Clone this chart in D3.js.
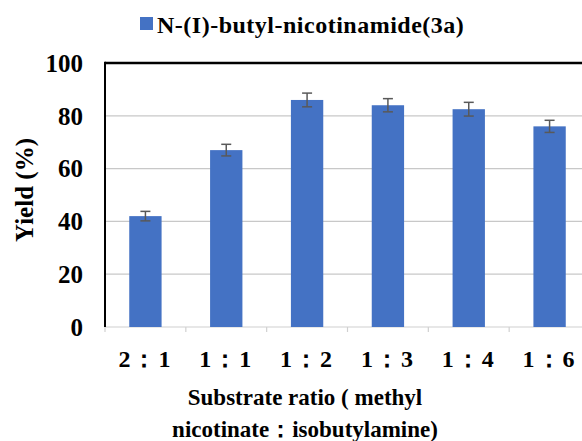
<!DOCTYPE html>
<html>
<head>
<meta charset="utf-8">
<script src="https://cdn.jsdelivr.net/npm/d3@7"></script>
<style>
  body { margin: 0; background: #fff; }
</style>
</head>
<body>
<svg width="582" height="441"></svg>
<script>
const ratios = ['2：1', '1：1', '1：2', '1：3', '1：4', '1：6']
const yields = [42, 67, 86, 84, 82.5, 76]
const errors = [1.8, 2.2, 2.6, 2.5, 2.6, 2.3]
const yTicks = [0, 20, 40, 60, 80, 100]
const seriesName = 'N-(I)-butyl-nicotinamide(3a)'

const svg = d3.select('svg')
  .attr('font-family', "'Times New Roman', 'Liberation Serif', serif")
  .attr('font-weight', 'bold')

const plotLeft = 105, plotRight = 590, plotTop = 63, plotBottom = 327

const x = d3.scaleBand()
  .domain(ratios)
  .range([plotLeft, plotRight])
  .paddingInner(0.6)
  .paddingOuter(0.3)

const y = d3.scaleLinear()
  .domain([0, 100])
  .range([plotBottom, plotTop])

// gridlines
svg.append('g')
  .selectAll('line')
  .data(yTicks.filter(d => d > 0 && d < 100))
  .join('line')
    .attr('x1', plotLeft)
    .attr('x2', 582)
    .attr('y1', d => y(d))
    .attr('y2', d => y(d))
    .attr('stroke', '#c8c8c8')
    .attr('stroke-width', 1.2)

// x axis (light grey with band ticks)
const xAxis = svg.append('g')
  .attr('transform', `translate(0, ${plotBottom})`)
xAxis.append('line')
  .attr('x1', plotLeft).attr('x2', 582)
  .attr('stroke', '#d0d0d0').attr('stroke-width', 1.2)
xAxis.selectAll('.tk')
  .data(ratios.map((d, i) => plotLeft + i * x.step()))
  .join('line')
    .attr('class', 'tk')
    .attr('x1', d => d).attr('x2', d => d)
    .attr('y1', 0).attr('y2', 5)
    .attr('stroke', '#d0d0d0').attr('stroke-width', 1.2)

// bars
svg.append('g')
  .selectAll('rect')
  .data(yields)
  .join('rect')
    .attr('x', (d, i) => x(ratios[i]))
    .attr('width', x.bandwidth())
    .attr('y', d => y(d))
    .attr('height', d => y(0) - y(d))
    .attr('fill', '#4472c4')

// error bars
const eb = svg.append('g')
  .attr('stroke', '#595959')
  .attr('stroke-width', 1.5)
yields.forEach((v, i) => {
  const cx = x(ratios[i]) + x.bandwidth() / 2
  eb.append('line')
    .attr('x1', cx).attr('x2', cx)
    .attr('y1', y(v + errors[i])).attr('y2', y(v - errors[i]))
  ;[v + errors[i], v - errors[i]].forEach(e => {
    eb.append('line')
      .attr('x1', cx - 5).attr('x2', cx + 5)
      .attr('y1', y(e)).attr('y2', y(e))
  })
})

// frame: top and left black lines
svg.append('line')
  .attr('x1', plotLeft).attr('x2', 582)
  .attr('y1', plotTop).attr('y2', plotTop)
  .attr('stroke', '#000').attr('stroke-width', 2.5)
svg.append('line')
  .attr('x1', plotLeft).attr('x2', plotLeft)
  .attr('y1', plotTop - 1.2).attr('y2', plotBottom)
  .attr('stroke', '#000').attr('stroke-width', 2)

// y tick labels
svg.append('g')
  .selectAll('text')
  .data(yTicks)
  .join('text')
    .attr('x', 83)
    .attr('y', d => y(d))
    .attr('dy', '0.35em')
    .attr('text-anchor', 'end')
    .attr('font-size', 25)
    .text(d => d)

// x tick labels
svg.append('g')
  .selectAll('text')
  .data(ratios)
  .join('text')
    .attr('x', d => x(d) + x.bandwidth() / 2)
    .attr('y', 367)
    .attr('text-anchor', 'middle')
    .attr('font-size', 24)
    .attr('letter-spacing', 2)
    .text(d => d)

// axis titles
svg.append('text')
  .attr('transform', 'translate(33, 190) rotate(-90)')
  .attr('text-anchor', 'middle')
  .attr('font-size', 25)
  .text('Yield (%)')

svg.append('text')
  .attr('x', 305)
  .attr('y', 405)
  .attr('text-anchor', 'middle')
  .attr('font-size', 23)
  .text('Substrate ratio ( methyl')
svg.append('text')
  .attr('x', 305)
  .attr('y', 437)
  .attr('text-anchor', 'middle')
  .attr('font-size', 23)
  .text('nicotinate：isobutylamine)')

// legend
const legend = svg.append('g')
legend.append('rect')
  .attr('x', 140).attr('y', 17)
  .attr('width', 13).attr('height', 13)
  .attr('fill', '#4472c4')
legend.append('text')
  .attr('x', 157)
  .attr('y', 33)
  .attr('font-size', 24)
  .attr('letter-spacing', 0.5)
  .text(seriesName)
</script>
</body>
</html>
